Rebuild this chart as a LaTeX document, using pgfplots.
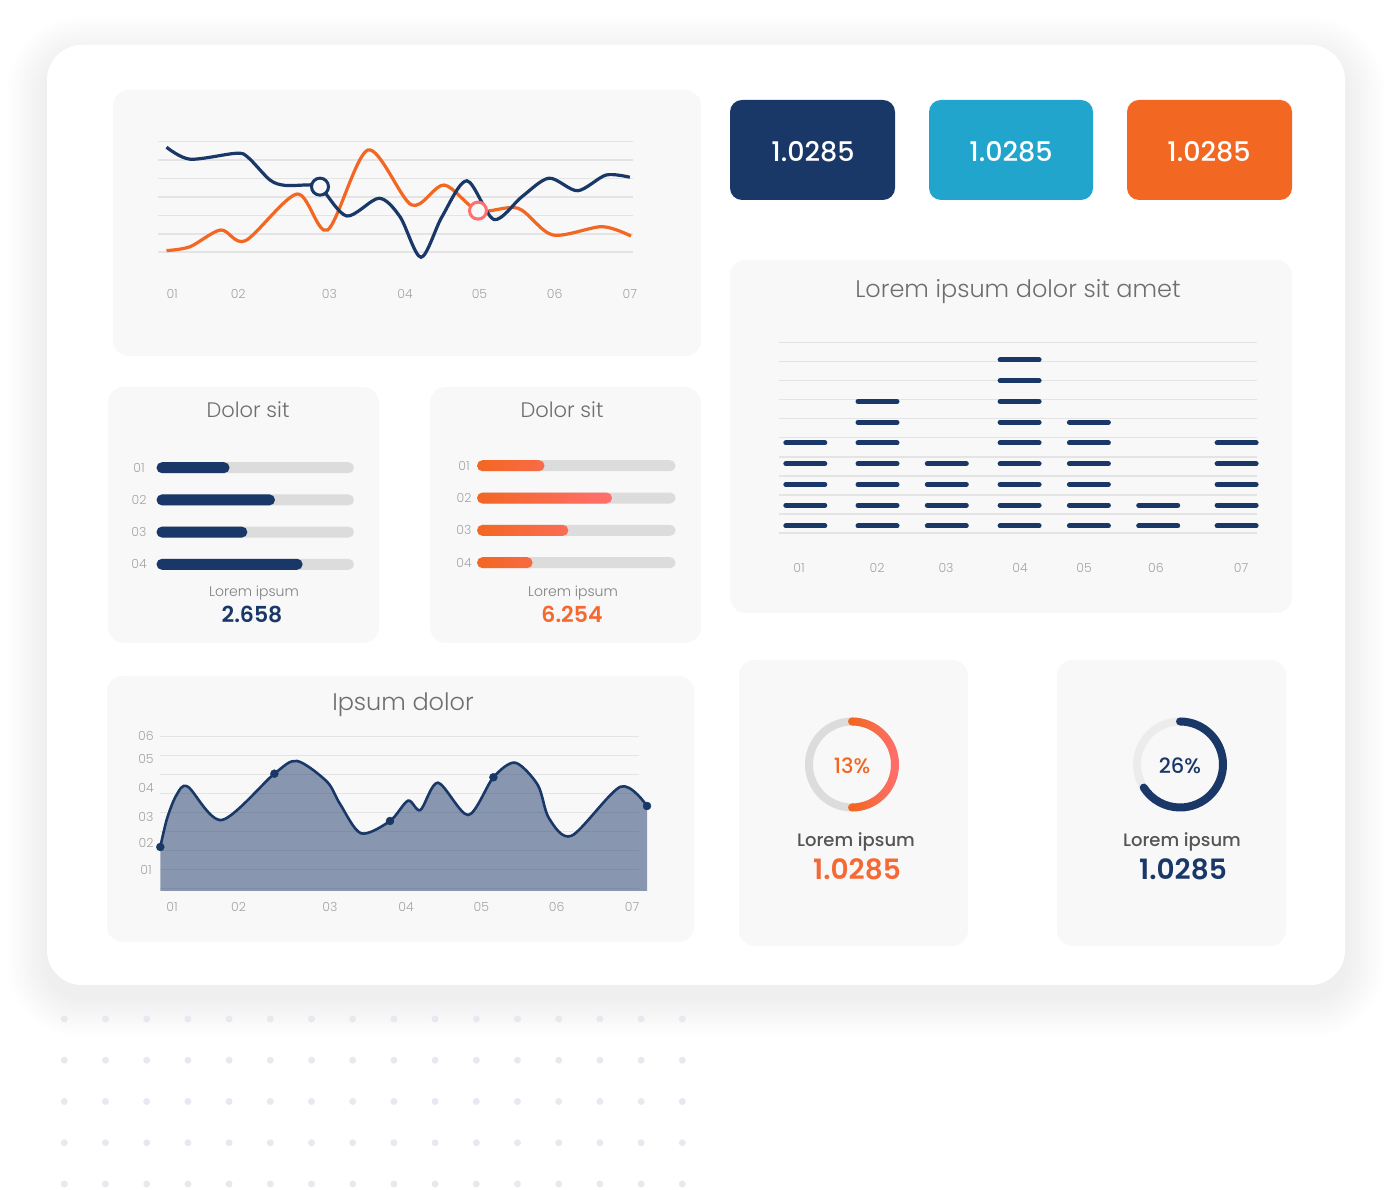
\documentclass[border=0pt]{standalone}
\usepackage{fontspec}
\setmainfont{Poppins}
\IfFontExistsTF{Poppins Light}{\newfontfamily\lightf{Poppins Light}}{\newfontfamily\lightf{Poppins}}
\IfFontExistsTF{Poppins Medium}{\newfontfamily\medf{Poppins Medium}}{\newfontfamily\medf{Poppins}}
\IfFontExistsTF{Poppins SemiBold}{\newfontfamily\semif{Poppins SemiBold}}{\newcommand\semif{\bfseries}}
\usepackage{pgfplots}
\pgfplotsset{compat=1.18}
\usetikzlibrary{calc}

\definecolor{navy}{HTML}{193868}
\definecolor{cyanb}{HTML}{22A5CD}
\definecolor{orng}{HTML}{F26722}
\definecolor{coral}{HTML}{FF6F6F}
\definecolor{panel}{HTML}{F8F8F8}
\definecolor{gridc}{HTML}{E4E4E4}
\definecolor{track}{HTML}{DCDCDC}
\definecolor{track2}{HTML}{ECECEC}
\definecolor{tickc}{HTML}{A3A3A3}
\definecolor{titlec}{HTML}{6E6E6E}
\definecolor{subc}{HTML}{808080}
\definecolor{darkc}{HTML}{555555}
\definecolor{dotc}{HTML}{E6E9EF}

\newcommand\fs[1]{\fontsize{#1}{#1}\selectfont}

\pgfplotsset{
  panelaxis/.style={
    scale only axis, anchor=south west, clip=false,
    axis lines*=left, axis line style={draw=none},
    major tick length=0pt, minor tick length=0pt,
    /pgf/number format/assume math mode=true,
    tick label style={font=\lightf\fs{12.5}, text=tickc},
    grid style={gridc, line width=1.6pt},
  },
  nolabels y/.style={yticklabel style={text opacity=0}},
  pill/.style={xbar, bar width=11pt, bar shift=0pt, draw=none, rounded corners=5.5pt},
}

\begin{document}
\begin{tikzpicture}
\begin{scope}[x=1pt,y=1pt]
\path[use as bounding box] (0,0) rectangle (1392,1190);
% soft shadow and white card
\foreach \i in {1,...,16} {
  \pgfmathsetmacro\r{35+2.5*\i}
  \fill[black, opacity=0.003, rounded corners=\r pt]
    (47-2.5*\i, 193-2.5*\i) rectangle (1345+2.5*\i, 1133+2.5*\i);
}
\fill[white, rounded corners=35pt] (47,205) rectangle (1345,1145);

% panels
\fill[panel, rounded corners=16pt] (113,834) rectangle (701,1100);
\fill[panel, rounded corners=16pt] (108,547) rectangle (379,803);
\fill[panel, rounded corners=16pt] (430,547) rectangle (701,803);
\fill[panel, rounded corners=16pt] (107,248) rectangle (694,514);
\fill[panel, rounded corners=16pt] (730,577) rectangle (1292,930);
\fill[panel, rounded corners=16pt] (739,244) rectangle (968,530);
\fill[panel, rounded corners=16pt] (1057,244) rectangle (1286,530);

% value boxes
\fill[navy, rounded corners=12pt] (730,990) rectangle (895,1090);
\fill[cyanb, rounded corners=12pt] (929,990) rectangle (1093,1090);
\fill[orng, rounded corners=12pt] (1127,990) rectangle (1292,1090);
\node[anchor=base, text=white, font=\medf\fs{27}] at (813,1028) {1.0285};
\node[anchor=base, text=white, font=\medf\fs{27}] at (1011,1028) {1.0285};
\node[anchor=base, text=white, font=\medf\fs{27}] at (1209,1028) {1.0285};

% titles and captions
\node[anchor=base, text=titlec, font=\lightf\fs{21}] at (248,772) {Dolor sit};
\node[anchor=base, text=titlec, font=\lightf\fs{21}] at (562,772) {Dolor sit};
\node[anchor=base, text=subc, font=\lightf\fs{14}] at (254,593) {Lorem ipsum};
\node[anchor=base, text=subc, font=\lightf\fs{14}] at (573,593) {Lorem ipsum};
\node[anchor=base, text=navy, font=\semif\fs{22}] at (252,567) {2.658};
\node[anchor=base, text=orng!80!coral, font=\semif\fs{22}] at (572,567) {6.254};
\node[anchor=base, text=titlec, font=\lightf\fs{24}] at (1018,892) {Lorem ipsum dolor sit amet};
\node[anchor=base, text=titlec, font=\lightf\fs{24}] at (403,479) {Ipsum dolor};

% donuts
\draw[track, line width=8pt] (852,425.5) circle[radius=43pt];
\shade[left color=orng, right color=coral]
  ($(852,425.5)+(90:47pt)$) arc[start angle=90, end angle=-90, radius=47pt]
  -- ($(852,425.5)+(-90:39pt)$) arc[start angle=-90, end angle=90, radius=39pt] -- cycle;
\fill[orng] ($(852,425.5)+(90:43pt)$) circle[radius=4pt];
\fill[orng] ($(852,425.5)+(-90:43pt)$) circle[radius=4pt];
\draw[track2, line width=8pt] (1180,425.5) circle[radius=43pt];
\draw[navy, line width=8pt, line cap=round]
  ($(1180,425.5)+(90:43pt)$) arc[start angle=90, end angle=-147.5, radius=43pt];
\node[anchor=base, text=orng, font=\medf\fs{21}] at (852,416) {13\%};
\node[anchor=base, text=navy, font=\medf\fs{21}] at (1180,416) {26\%};
\node[anchor=base, text=darkc, font=\medf\fs{18}] at (856,343) {Lorem ipsum};
\node[anchor=base, text=darkc, font=\medf\fs{18}] at (1182,343) {Lorem ipsum};
\node[anchor=base, text=orng!75!coral, font=\semif\fs{28}] at (857,310) {1.0285};
\node[anchor=base, text=navy, font=\semif\fs{28}] at (1183,310) {1.0285};

% dot grid
\foreach \i in {0,...,15} {
  \foreach \j in {0,...,4} {
    \fill[dotc] (64.3+41.2*\i, 171-41.25*\j) circle[radius=3.5pt];
  }
}
\end{scope}

% line chart, top left
\begin{axis}[panelaxis, nolabels y, at={(157.7pt,937.7pt)}, width=475.2pt, height=110.6pt,
  xmin=157.7, xmax=632.9, ymin=0, ymax=6,
  ytick={0,1,2,3,4,5,6}, ymajorgrids,
  xtick={172.2,238.2,329.5,405,479.5,554.7,629.8},
  xticklabels={01,02,03,04,05,06,07},
  xticklabel style={anchor=center, yshift=-41.7pt}]
\addplot[orng, line width=3.2pt, smooth] coordinates {
  (166.5,0.09) (190,0.30) (220.7,1.21) (245.5,0.63) (297,3.16) (327.6,1.21)
  (368,5.55) (411.5,2.57) (444,3.65) (478,2.26) (518,2.39) (552.7,0.94)
  (602,1.39) (631,0.88)};
\addplot[navy, line width=3.2pt, smooth] coordinates {
  (166.5,5.70) (190,5.05) (236,5.37) (248,5.15) (270,3.92) (285,3.63) (308,3.65)
  (320,3.56) (346.6,1.97) (379,2.93) (400,1.93) (421,-0.27) (442,1.93) (466.9,3.88)
  (494,1.78) (522,3.02) (549,4.02) (577.6,3.34) (606,4.19) (629.8,4.07)};
\addplot[only marks, mark=*, mark size=8.5pt,
  mark options={fill=panel, draw=navy, line width=3pt}] coordinates {(320,3.56)};
\addplot[only marks, mark=*, mark size=8.5pt,
  mark options={fill=panel, draw=coral, line width=3pt}] coordinates {(478,2.26)};
\end{axis}

% progress bars, left
\begin{axis}[panelaxis, at={(156.5pt,609.6pt)}, width=197.5pt, height=128.8pt,
  xmin=0, xmax=100, ymin=0.5, ymax=4.5, y dir=reverse,
  xtick=\empty, ytick={1,2,3,4}, yticklabels={01,02,03,04},
  yticklabel style={anchor=center, xshift=-17.5pt}]
\addplot[pill, fill=track] coordinates {(100,1) (100,2) (100,3) (100,4)};
\addplot[pill, fill=navy] coordinates {(37,1) (60,2) (46,3) (74,4)};
\end{axis}

% progress bars, right
\begin{axis}[panelaxis, at={(477pt,611.15pt)}, width=198.6pt, height=129.3pt,
  xmin=0, xmax=100, ymin=0.5, ymax=4.5, y dir=reverse,
  xtick=\empty, ytick={1,2,3,4}, yticklabels={01,02,03,04},
  yticklabel style={anchor=center, xshift=-13pt}]
\addplot[pill, fill=track] coordinates {(100,1) (100,2) (100,3) (100,4)};
\addplot[pill, left color=orng, right color=coral] coordinates {(34,1) (68,2) (46,3) (28,4)};
\end{axis}

% dash columns, right
\begin{axis}[panelaxis, nolabels y, at={(779.3pt,657pt)}, width=477.5pt, height=190.3pt,
  xmin=779.3, xmax=1256.8, ymin=0.663, ymax=9.834,
  ytick={0.663,1.580,2.497,3.414,4.331,5.249,6.166,7.083,8.000,8.917,9.834},
  ymajorgrids, grid style={gridc, line width=1.3pt},
  xtick={799,877,946,1020,1084,1156,1241},
  xticklabels={01,02,03,04,05,06,07},
  xticklabel style={anchor=center, yshift=-35pt}]
\addplot[only marks, mark=-, mark size=19.5pt,
  mark options={navy, line width=5pt, line cap=round}] table {
x y
805.3 1
805.3 2
805.3 3
805.3 4
805.3 5
877.5 1
877.5 2
877.5 3
877.5 4
877.5 5
877.5 6
877.5 7
946.8 1
946.8 2
946.8 3
946.8 4
1019.6 1
1019.6 2
1019.6 3
1019.6 4
1019.6 5
1019.6 6
1019.6 7
1019.6 8
1019.6 9
1088.9 1
1088.9 2
1088.9 3
1088.9 4
1088.9 5
1088.9 6
1158.2 1
1158.2 2
1236.6 1
1236.6 2
1236.6 3
1236.6 4
1236.6 5
};
\end{axis}

% area chart, bottom left
\begin{axis}[panelaxis, at={(160.3pt,299pt)}, width=479.1pt, height=155.44pt,
  xmin=160.3, xmax=639.4, ymin=0, ymax=5.8,
  ytick={0.784,1.802,2.772,3.854,4.914,5.784}, yticklabels={01,02,03,04,05,06},
  minor ytick={0.101,0.808,1.515,2.222,2.929,3.636,4.343,5.050,5.757},
  yminorgrids, minor grid style={gridc, line width=1.4pt},
  xtick={172,238.6,330,406,481.4,556.6,632},
  xticklabels={01,02,03,04,05,06,07},
  xticklabel style={anchor=center, yshift=-15.7pt},
  yticklabel style={anchor=center, xshift=-14.3pt}]
\addplot[draw=none, fill=navy, fill opacity=0.5, smooth] coordinates {
  (160.3,1.642) (167.1,2.71) (176.5,3.58) (187.8,3.892) (221.7,2.649) (274.4,4.377)
  (297,4.851) (327,4.078) (340,3.25) (361,2.153) (390,2.612) (408,3.369) (420.4,3.022)
  (438,4.041) (468.2,2.836) (493.4,4.243) (515.2,4.787) (537.8,3.955) (549,2.713)
  (571.7,2.063) (620.6,3.892) (647,3.172)} \closedcycle;
\addplot[navy, line width=2.6pt, smooth] coordinates {
  (160.3,1.642) (167.1,2.71) (176.5,3.58) (187.8,3.892) (221.7,2.649) (274.4,4.377)
  (297,4.851) (327,4.078) (340,3.25) (361,2.153) (390,2.612) (408,3.369) (420.4,3.022)
  (438,4.041) (468.2,2.836) (493.4,4.243) (515.2,4.787) (537.8,3.955) (549,2.713)
  (571.7,2.063) (620.6,3.892) (647,3.172)};
\addplot[only marks, mark=*, mark size=4pt, navy] coordinates {
  (160.3,1.642) (274.4,4.377) (390,2.612) (493.4,4.243) (647,3.172)};
\end{axis}
\end{tikzpicture}
\end{document}
